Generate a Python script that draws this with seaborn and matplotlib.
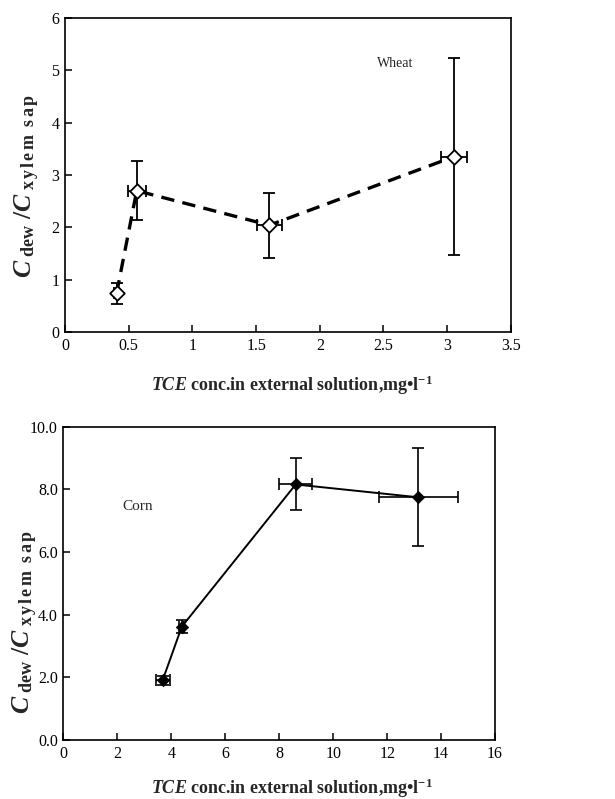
import matplotlib
matplotlib.use("Agg")
import matplotlib.pyplot as plt
import pandas as pd
import seaborn as sns

# Wheat data
wheat_x = [0.405, 0.563, 1.604, 3.053]
wheat_y = [0.74, 2.70, 2.04, 3.35]
wheat_xerr = [0.02, 0.07, 0.10, 0.10]
wheat_yerr = [0.20, 0.56, 0.62, 1.88]

# Corn data
corn_x = [3.68, 4.39, 8.61, 13.16]
corn_y = [1.91, 3.62, 8.16, 7.75]
corn_xerr = [0.26, 0.10, 0.60, 1.48]
corn_yerr = [0.15, 0.21, 0.83, 1.57]

wheat_ticks = [0, 0.5, 1, 1.5, 2, 2.5, 3, 3.5]
wheat_ticklabels = ['0', '0.5', '1', '1.5', '2', '2.5', '3', '3.5']
corn_yticks = [0, 2, 4, 6, 8, 10]

sns.set_theme(style="ticks")
plt.rcParams['font.family'] = ['Liberation Serif', 'DejaVu Serif']
plt.rcParams['mathtext.fontset'] = 'custom'
plt.rcParams['mathtext.rm'] = 'Liberation Serif'
plt.rcParams['mathtext.it'] = 'Liberation Serif:italic'
plt.rcParams['mathtext.bf'] = 'Liberation Serif:bold'
plt.rcParams['mathtext.bfit'] = 'Liberation Serif:italic:bold'

ylab = (r'$\mathbfit{C}_{\ \mathbf{dew}}\ \mathbf{/}\mathbfit{C}'
        r'_{\ \mathbf{x\,y\,l\,e\,m\ \ s\,a\,p}}$')
xlab = r'$\mathbfit{TCE}$ conc.in external solution,mg•l$^{\mathbf{-1}}$'

fig = plt.figure(figsize=(6.15, 7.99), dpi=100)
ax1 = fig.add_axes([0.1057, 0.5845, 0.725, 0.393])
ax2 = fig.add_axes([0.103, 0.0738, 0.702, 0.392])

df_w = pd.DataFrame({'x': wheat_x, 'y': wheat_y})
df_c = pd.DataFrame({'x': corn_x, 'y': corn_y})

# Wheat panel
ax1.errorbar(wheat_x, wheat_y, xerr=wheat_xerr, yerr=wheat_yerr, fmt='none',
             ecolor='black', elinewidth=1.3, capsize=4, capthick=1.3, zorder=2)
sns.lineplot(data=df_w, x='x', y='y', ax=ax1, color='black', linewidth=2.4,
             linestyle=(0, (4, 2.5)), zorder=3)
sns.scatterplot(data=df_w, x='x', y='y', ax=ax1, marker='D', s=55,
                facecolor='white', edgecolor='black', linewidth=1.3, zorder=4)
ax1.set_xlim(0, 3.5)
ax1.set_ylim(0, 6)
ax1.set_xticks(wheat_ticks)
ax1.set_xticklabels(wheat_ticklabels)
ax1.set_yticks(range(0, 7))
ax1.text(2.45, 5.07, 'Wheat', fontsize=10)

# Corn panel
ax2.errorbar(corn_x, corn_y, xerr=corn_xerr, yerr=corn_yerr, fmt='none',
             ecolor='black', elinewidth=1.2, capsize=4, capthick=1.2, zorder=2)
sns.lineplot(data=df_c, x='x', y='y', ax=ax2, color='black', linewidth=1.4, zorder=3)
sns.scatterplot(data=df_c, x='x', y='y', ax=ax2, marker='D', s=40,
                color='black', edgecolor='black', zorder=4)
ax2.set_xlim(0, 16)
ax2.set_ylim(0, 10)
ax2.set_xticks(range(0, 17, 2))
ax2.set_yticks(corn_yticks)
ax2.set_yticklabels([f'{v:.1f}' for v in corn_yticks])
ax2.text(2.2, 7.35, 'Corn', fontsize=11)

# label placement: (ax, ylabel x, ylabel y, xlabel x, xlabel y)
for ax, lyx, lyy, lx, lxy in [(ax1, -0.052, 0.465, 0.51, -0.133),
                              (ax2, -0.055, 0.375, 0.53, -0.118)]:
    ax.set_xlabel(xlab, fontsize=13, fontweight='bold')
    ax.set_ylabel(ylab, fontsize=18.5)
    ax.yaxis.set_label_coords(lyx, lyy)
    ax.xaxis.set_label_coords(lx, lxy)
    ax.tick_params(direction='in', length=5, width=1.1, labelsize=11.5, pad=4,
                   colors='black')
    for s in ax.spines.values():
        s.set_linewidth(1.2)
        s.set_color('black')

fig.savefig('out.png', dpi=100)
